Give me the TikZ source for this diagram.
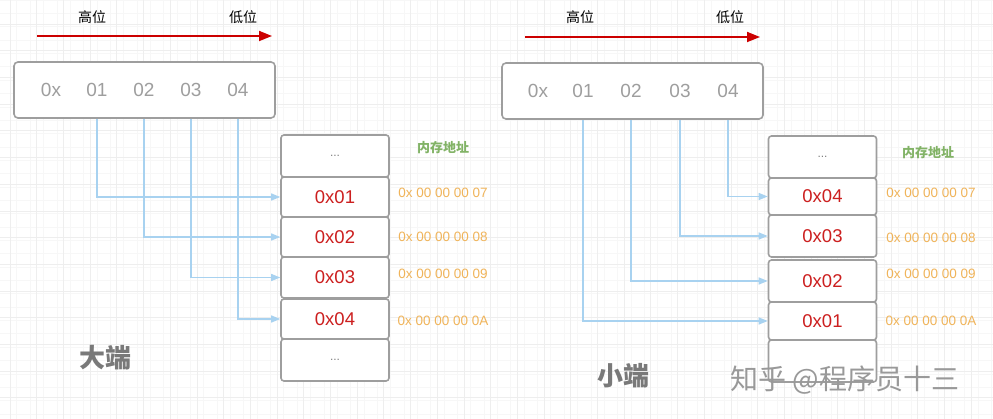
\documentclass[tikz,border=0pt]{standalone}
\usepackage{fontspec}
\setmainfont{Liberation Sans}
\newfontfamily\cjk{Noto Sans CJK SC}
\usetikzlibrary{arrows.meta}
\definecolor{boxgray}{HTML}{9E9E9E}
\definecolor{hexred}{HTML}{CC1F1F}
\definecolor{addrorange}{HTML}{F0B45A}
\definecolor{memgreen}{HTML}{82B366}
\definecolor{linkblue}{HTML}{A8D2F0}
\definecolor{orderred}{HTML}{CC0000}
\begin{document}
\begin{tikzpicture}[x=1pt,y=-1pt,
    cell/.style={draw=boxgray,line width=1.6pt,rounded corners=3pt,minimum width=108pt,inner sep=0pt,fill=white,text=hexred,font=\fontsize{18.5}{19}\selectfont},
    digit/.style={text=boxgray,font=\fontsize{19}{19}\selectfont},
    addr/.style={text=addrorange,font=\fontsize{13.5}{14}\selectfont},
    memo/.style={text=memgreen,font=\cjk\bfseries\fontsize{13}{13}\selectfont},
    hint/.style={font=\cjk\fontsize{14}{14}\selectfont},
    title/.style={text=gray!95!black,font=\cjk\bfseries\fontsize{26}{26}\selectfont},
    minor/.style={draw=gray!6,line width=0.5pt},
    major/.style={draw=gray!13,line width=0.7pt},
    link/.style={draw=linkblue,line width=1.3pt,-{Triangle[width=7pt,length=9pt]}},
    order/.style={draw=orderred,line width=1.8pt,-{Triangle[width=10pt,length=13pt]}}]
  \useasboundingbox (0,0) rectangle (993,419);
  % draw grid
  \fill[white] (0,0) rectangle (993,419);
  \foreach \k in {0,...,73} \draw[minor] ({16.7+13.35*\k},0) -- ++(0,419);
  \foreach \k in {0,...,31} \draw[minor] (0,{13.35*\k}) -- ++(993,0);
  \foreach \k in {0,...,37} \draw[major] ({10+26.7*\k},0) -- ++(0,419);
  \foreach \k in {0,...,15} \draw[major] (0,{24+26.7*\k}) -- ++(993,0);

  % big endian
  \node[hint] (hiL) at (92,17) {高位};
  \node[hint] (loL) at (243,17) {低位};
  \coordinate (startL) at (37,36);
  \coordinate (endL) at (272,36);
  \draw[order] (startL) -- (endL);
  \node[draw=boxgray,fill=white,line width=1.6pt,rounded corners=4pt,minimum width=261pt,minimum height=56pt] (hexL) at (144.5,90) {};
  \foreach \t/\x [count=\i from 0] in {0x/51,01/97,02/144,03/191,04/238}
    \node[digit] (dL\i) at (\x,90) {\t};
  \node[cell,minimum height=42pt] (cL0) at (335,156) {\textcolor{gray}{\fontsize{12}{12}\selectfont ...}};
  \foreach \t/\y/\h [count=\i] in {0x01/197/40,0x02/237/40,0x03/277.5/41,0x04/319/40}
    \node[cell,minimum height=\h pt] (cL\i) at (335,\y) {\t};
  \node[cell,minimum height=42pt] (cL5) at (335,360) {\textcolor{gray}{\fontsize{12}{12}\selectfont ...}};
  \foreach \i in {1,...,4}
    \draw[link] (dL\i.south |- hexL.south) |- (cL\i.west);
  \node[memo] (memL) at (443,148) {内存地址};
  \foreach \t/\y [count=\i] in {07/193,08/237,09/274,0A/321}
    \node[addr] (addrL\i) at (443,\y) {0x 00 00 00 \t};
  \node[title] (bigL) at (105,358) {大端};

  % little endian
  \node[hint] (hiR) at (580,17) {高位};
  \node[hint] (loR) at (730,17) {低位};
  \coordinate (startR) at (525,37);
  \coordinate (endR) at (760,37);
  \draw[order] (startR) -- (endR);
  \node[draw=boxgray,fill=white,line width=1.6pt,rounded corners=4pt,minimum width=261pt,minimum height=56pt] (hexR) at (632.5,91) {};
  \foreach \t/\x [count=\i from 0] in {0x/538,01/583,02/631,03/680,04/728}
    \node[digit] (dR\i) at (\x,91) {\t};
  \node[cell,minimum height=42pt] (cR0) at (822.5,157) {\textcolor{gray}{\fontsize{12}{12}\selectfont ...}};
  \foreach \t/\y/\h [count=\i] in {0x04/196.5/37,0x03/236/42,0x02/281/42,0x01/321/38}
    \node[cell,minimum height=\h pt] (cR\i) at (822.5,\y) {\t};
  \node[cell,minimum height=42pt] (cR5) at (822.5,361) {};
  \foreach \i/\j in {1/4,2/3,3/2,4/1}
    \draw[link] (dR\i.south |- hexR.south) |- (cR\j.west);
  \node[memo] (memR) at (928,153) {内存地址};
  \foreach \t/\y [count=\i] in {07/193,08/238,09/274,0A/321}
    \node[addr] (addrR\i) at (931,\y) {0x 00 00 00 \t};
  \node[title] (smallR) at (623,376) {小端};
  \node[text=gray!80,font=\cjk\fontsize{28}{28}\selectfont] (mark) at (845,380) {知乎 @程序员十三};
\end{tikzpicture}
\end{document}
